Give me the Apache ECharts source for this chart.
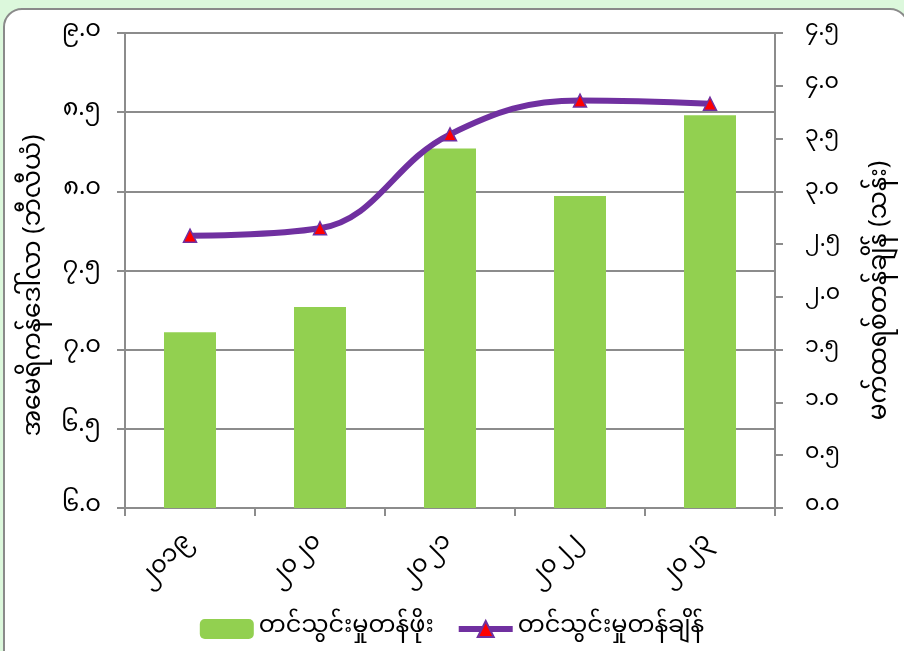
<!DOCTYPE html>
<html>
<head>
<meta charset="utf-8">
<script src="https://cdn.jsdelivr.net/npm/echarts@6/dist/echarts.min.js"></script>
<style>
  html, body { margin: 0; padding: 0; background: #dcf8dc; }
  #chart { width: 904px; height: 651px; }
</style>
</head>
<body>
<div id="chart"></div>
<script>
// ခုနှစ်များ
var years = ['၂၀၁၉', '၂၀၂၀', '၂၀၂၁', '၂၀၂၂', '၂၀၂၃'];
// တင်သွင်းမှုတန်ဖိုး (ဘီလီယံ)
var importValue = [7.11, 7.27, 8.27, 7.97, 8.48];
// တင်သွင်းမှုတန်ချိန် (သန်း)
var importTonnage = [2.58, 2.65, 3.54, 3.86, 3.83];
// tick labels
var leftTicks = ['၆.၀', '၆.၅', '၇.၀', '၇.၅', '၈.၀', '၈.၅', '၉.၀'];
var rightTicks = ['၀.၀', '၀.၅', '၁.၀', '၁.၅', '၂.၀', '၂.၅', '၃.၀', '၃.၅', '၄.၀', '၄.၅'];

var seriesNames = ['တင်သွင်းမှုတန်ဖိုး', 'တင်သွင်းမှုတန်ချိန်'];
var leftName = 'အမေရိကန်ဒေါ်လာ (ဘီလီယံ)';
var rightName = 'မက်ထရစ်တန်ချိန် (သန်း)';

var font = '"Noto Sans Myanmar", "Padauk", "Myanmar Text", "Noto Sans", sans-serif';
var axisGray = '#8c8c8c';

var myChart = echarts.init(document.getElementById('chart'));

var option = {
    backgroundColor: '#dcf8dc',
    animation: false,
    textStyle: { fontFamily: font },
    graphic: [{
        type: 'rect',
        z: -10,
        shape: { x: 4, y: 9, width: 904, height: 700, r: 18 },
        style: { fill: '#ffffff', stroke: '#8a8a8a', lineWidth: 2 }
    }],
    grid: { left: 125, right: 129, top: 33, bottom: 143 },
    legend: {
        left: 'center',
        top: 612,
        itemWidth: 54,
        itemHeight: 20,
        itemGap: 22,
        textStyle: { fontSize: 24, color: '#000', fontFamily: font },
        lineStyle: { width: 6 },
        data: seriesNames
    },
    xAxis: {
        type: 'category',
        data: years,
        axisLine: { lineStyle: { color: axisGray, width: 2 } },
        axisTick: { show: true, length: 8, lineStyle: { color: axisGray, width: 2 } },
        axisLabel: { rotate: 45, margin: 32, fontSize: 24, color: '#000', fontFamily: font }
    },
    yAxis: [
        {
            type: 'value',
            min: 6,
            max: 9,
            interval: 0.5,
            position: 'left',
            name: leftName,
            nameLocation: 'middle',
            nameGap: 72,
            nameTextStyle: { fontSize: 25, color: '#000', fontFamily: font, padding: [0, 30, 0, 0] },
            axisLine: { show: true, lineStyle: { color: axisGray, width: 2 } },
            axisTick: { show: true, length: 8, lineStyle: { color: axisGray, width: 2 } },
            splitLine: { show: true, lineStyle: { color: axisGray, width: 2 } },
            axisLabel: {
                margin: 24, fontSize: 24, color: '#000', fontFamily: font,
                formatter: function (v) { return leftTicks[Math.round((v - 6) / 0.5)]; }
            }
        },
        {
            type: 'value',
            min: 0,
            max: 4.5,
            interval: 0.5,
            position: 'right',
            name: rightName,
            nameLocation: 'middle',
            nameGap: 96,
            nameRotate: 90,
            nameTextStyle: { fontSize: 25, color: '#000', fontFamily: font, padding: [0, 40, 0, 0] },
            axisLine: { show: true, lineStyle: { color: axisGray, width: 2 } },
            axisTick: { show: true, length: 8, lineStyle: { color: axisGray, width: 2 } },
            splitLine: { show: false },
            axisLabel: {
                margin: 30, fontSize: 22, color: '#000', fontFamily: font,
                formatter: function (v) { return rightTicks[Math.round(v / 0.5)]; }
            }
        }
    ],
    series: [
        {
            name: seriesNames[0],
            type: 'bar',
            yAxisIndex: 0,
            barWidth: '40%',
            itemStyle: { color: '#92d050' },
            data: importValue
        },
        {
            name: seriesNames[1],
            type: 'line',
            yAxisIndex: 1,
            smooth: 0.4,
            symbol: 'triangle',
            symbolSize: 13,
            lineStyle: { color: '#7030a0', width: 6 },
            itemStyle: { color: '#ff0000', borderColor: '#7030a0', borderWidth: 1.5 },
            data: importTonnage
        }
    ]
};
option && myChart.setOption(option);
</script>
</body>
</html>
